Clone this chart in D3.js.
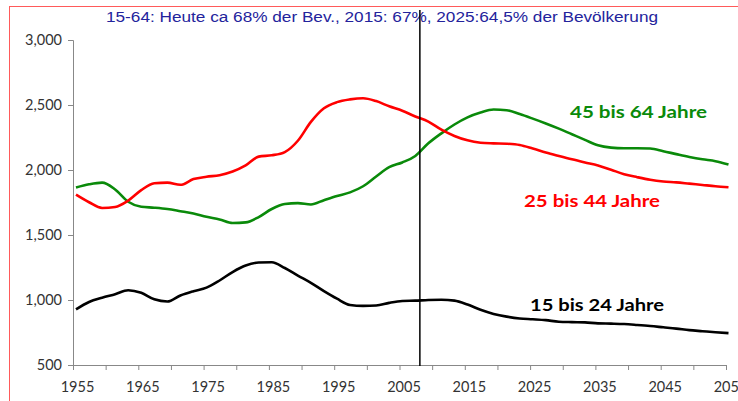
<!DOCTYPE html>
<html>
<head>
<meta charset="utf-8">
<script src="https://cdn.jsdelivr.net/npm/d3@7"></script>
<style>
  body { margin: 0; background: #fff; }
  svg { display: block; }
</style>
</head>
<body>
<div id="chart"></div>
<script>
// Bevölkerung nach Altersgruppen 1955-2055 (Tsd.)

const years = d3.range(1955, 2056, 2);

const age45to64 = [1865, 1890, 1903, 1850, 1756, 1717, 1710, 1700, 1683, 1665,
  1640, 1620, 1592, 1597, 1638, 1700, 1738, 1745, 1735, 1768,
  1800, 1828, 1875, 1950, 2022, 2058, 2108, 2205, 2282, 2350,
  2405, 2442, 2465, 2460, 2430, 2395, 2358, 2318, 2275, 2232,
  2190, 2172, 2167, 2167, 2165, 2145, 2122, 2100, 2082, 2068, 2042];

const age25to44 = [1810, 1752, 1708, 1715, 1765, 1845, 1898, 1903, 1886, 1930,
  1948, 1960, 1988, 2035, 2103, 2113, 2138, 2225, 2370, 2475,
  2522, 2543, 2552, 2530, 2490, 2456, 2412, 2372, 2310, 2262,
  2228, 2210, 2205, 2202, 2192, 2165, 2135, 2108, 2082, 2058,
  2035, 2002, 1968, 1945, 1925, 1912, 1905, 1895, 1885, 1875, 1867];

const age15to24 = [928, 985, 1018, 1045, 1075, 1055, 1005, 988, 1035, 1068,
  1095, 1150, 1215, 1265, 1288, 1290, 1246, 1188, 1132, 1068,
  1010, 962, 955, 958, 978, 992, 995, 1000, 1002, 995,
  965, 925, 893, 872, 858, 852, 845, 833, 830, 828,
  820, 818, 815, 808, 800, 790, 780, 768, 760, 752, 745];

const yTicks = [500, 1000, 1500, 2000, 2500, 3000];
const xTicks = d3.range(1955, 2056, 5);
const xLabels = d3.range(1955, 2056, 10);
const markerYear = 2007.7;

const title = "15-64: Heute ca 68% der Bev., 2015: 67%, 2025:64,5% der Bevölkerung";

const series = [
  { name: "45 bis 64 Jahre", values: age45to64, color: "#0a8a0a", lx: 570, ly: 118, lw: 137 },
  { name: "25 bis 44 Jahre", values: age25to44, color: "#ff0000", lx: 524, ly: 207, lw: 136 },
  { name: "15 bis 24 Jahre", values: age15to24, color: "#000000", lx: 530, ly: 311, lw: 134 }
];

const w = 738, h = 401;

const svg = d3.select("#chart").append("svg")
  .attr("width", w)
  .attr("height", h);

// red frame (right and bottom edges lie outside the picture)
svg.append("rect")
  .attr("x", 9.5).attr("y", 6.5)
  .attr("width", 800).attr("height", 500)
  .attr("fill", "none")
  .attr("stroke", "#ff5a5a")
  .attr("stroke-width", 1);

const x = d3.scaleLinear().domain([1955, 2055]).range([76, 728.5]);
const xAx = d3.scaleLinear().domain([1955, 2055]).range([73, 726]);
const y = d3.scaleLinear().domain([500, 3000]).range([365, 40]);

// y axis
const gy = svg.append("g")
  .attr("transform", "translate(73,0)")
  .call(d3.axisLeft(y).tickValues(yTicks).tickFormat(d3.format(",")).tickSize(5).tickPadding(6));
gy.select(".domain").attr("stroke", "#888");
gy.selectAll(".tick line").attr("stroke", "#888");
gy.selectAll(".tick text")
  .attr("font-family", "Lato, sans-serif")
  .attr("font-size", "14.5px")
  .attr("fill", "#333");

// x axis
const gx = svg.append("g")
  .attr("transform", "translate(0,365)")
  .call(d3.axisBottom(xAx).tickValues(xTicks)
    .tickFormat(d => xLabels.includes(d) ? d : "")
    .tickSize(5).tickPadding(12).tickSizeOuter(0));
gx.select(".domain").attr("stroke", "#888");
gx.selectAll(".tick line").attr("stroke", "#888");
gx.selectAll(".tick text")
  .attr("dx", 4)
  .attr("font-family", "Lato, sans-serif")
  .attr("font-size", "14.5px")
  .attr("fill", "#333");

// lines
const line = d3.line()
  .x((d, i) => x(years[i]))
  .y(d => y(d))
  .curve(d3.curveMonotoneX);

series.forEach(s => {
  svg.append("path")
    .datum(s.values)
    .attr("d", line)
    .attr("fill", "none")
    .attr("stroke", s.color)
    .attr("stroke-width", 2.6)
    .attr("stroke-linejoin", "round");

  svg.append("text")
    .attr("x", s.lx)
    .attr("y", s.ly)
    .attr("font-family", "Lato, sans-serif")
    .attr("font-weight", "bold")
    .attr("font-size", "17.5px")
    .attr("textLength", s.lw)
    .attr("lengthAdjust", "spacingAndGlyphs")
    .attr("fill", s.color)
    .text(s.name);
});

// title
svg.append("text")
  .attr("x", 106)
  .attr("y", 22)
  .attr("font-family", "Liberation Sans, Arial, sans-serif")
  .attr("font-size", "14px")
  .attr("textLength", 552)
  .attr("lengthAdjust", "spacingAndGlyphs")
  .attr("fill", "#23239c")
  .text(title);

// vertical marker
svg.append("line")
  .attr("x1", x(markerYear)).attr("x2", x(markerYear))
  .attr("y1", 10).attr("y2", 366)
  .attr("stroke", "#000")
  .attr("stroke-width", 1.5);
</script>
</body>
</html>
